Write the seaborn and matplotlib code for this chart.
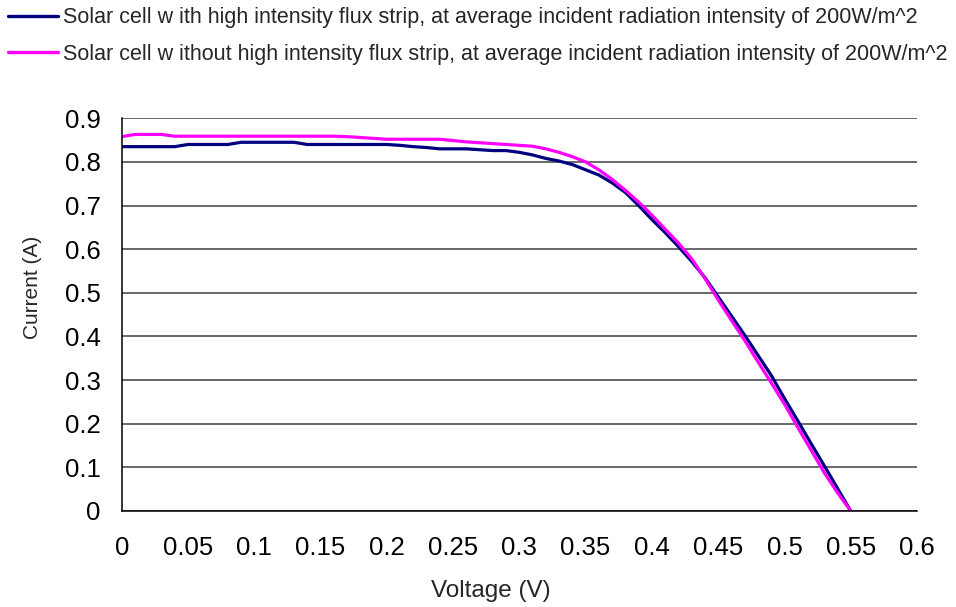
import numpy as np
import pandas as pd
import matplotlib
matplotlib.use("Agg")
import matplotlib.pyplot as plt
import seaborn as sns

voltage = [0.00, 0.01, 0.02, 0.03, 0.04, 0.05, 0.06, 0.07, 0.08, 0.09,
           0.10, 0.11, 0.12, 0.13, 0.14, 0.15, 0.16, 0.17, 0.18, 0.19,
           0.20, 0.21, 0.22, 0.23, 0.24, 0.25, 0.26, 0.27, 0.28, 0.29,
           0.30, 0.31, 0.32, 0.33, 0.34, 0.35, 0.36, 0.37, 0.38, 0.39,
           0.40, 0.41, 0.42, 0.43, 0.44, 0.45, 0.46, 0.47, 0.48, 0.49,
           0.50, 0.51, 0.52, 0.53, 0.54, 0.55]

current_with_strip = [0.835, 0.835, 0.835, 0.835, 0.835, 0.840, 0.840, 0.840, 0.840, 0.845,
                      0.845, 0.845, 0.845, 0.845, 0.840, 0.840, 0.840, 0.840, 0.840, 0.840,
                      0.840, 0.838, 0.835, 0.833, 0.830, 0.830, 0.830, 0.828, 0.826, 0.826,
                      0.822, 0.816, 0.808, 0.802, 0.794, 0.782, 0.770, 0.752, 0.730, 0.700,
                      0.668, 0.638, 0.606, 0.572, 0.535, 0.491, 0.447, 0.403, 0.357, 0.311,
                      0.258, 0.207, 0.155, 0.104, 0.052, 0.000]

current_without_strip = [0.858, 0.863, 0.863, 0.863, 0.859, 0.859, 0.859, 0.859, 0.859, 0.859,
                         0.859, 0.859, 0.859, 0.859, 0.859, 0.859, 0.859, 0.858, 0.856, 0.854,
                         0.852, 0.852, 0.852, 0.852, 0.852, 0.849, 0.846, 0.844, 0.842, 0.840,
                         0.838, 0.836, 0.830, 0.822, 0.812, 0.800, 0.782, 0.760, 0.735, 0.708,
                         0.678, 0.646, 0.614, 0.578, 0.533, 0.484, 0.437, 0.391, 0.342, 0.294,
                         0.245, 0.192, 0.140, 0.088, 0.042, 0.000]

series_names = [
    "Solar cell w ith high intensity flux strip, at average incident radiation intensity of 200W/m^2",
    "Solar cell w ithout high intensity flux strip, at average incident radiation intensity of 200W/m^2",
]
series_colors = ["#000080", "#FF00FF"]

x_ticks = [0, 0.05, 0.1, 0.15, 0.2, 0.25, 0.3, 0.35, 0.4, 0.45, 0.5, 0.55, 0.6]
x_tick_labels = ["0", "0.05", "0.1", "0.15", "0.2", "0.25", "0.3", "0.35", "0.4", "0.45", "0.5", "0.55", "0.6"]
y_ticks = [0, 0.1, 0.2, 0.3, 0.4, 0.5, 0.6, 0.7, 0.8, 0.9]
y_tick_labels = ["0", "0.1", "0.2", "0.3", "0.4", "0.5", "0.6", "0.7", "0.8", "0.9"]

df = pd.concat([
    pd.DataFrame({"Voltage": voltage, "Current": current_with_strip, "Series": series_names[0]}),
    pd.DataFrame({"Voltage": voltage, "Current": current_without_strip, "Series": series_names[1]}),
], ignore_index=True)

sns.set_theme(style="white")
plt.rcParams["font.family"] = ["Liberation Sans", "DejaVu Sans"]

fig = plt.figure(figsize=(9.56, 6.07), dpi=100)
ax = fig.add_axes([0.1273, 0.1582, 0.8319, 0.6469])

sns.lineplot(data=df, x="Voltage", y="Current", hue="Series", hue_order=series_names,
             palette=series_colors, linewidth=2.3, ax=ax, legend=False, sort=False)

ax.set_xlim(0, 0.6)
ax.set_ylim(0, 0.9)
ax.set_xticks(x_ticks)
ax.set_xticklabels(x_tick_labels)
ax.set_yticks(y_ticks)
ax.set_yticklabels(y_tick_labels)
ax.tick_params(axis="both", labelsize=18.5, colors="black", direction="out", length=6, width=1.1)
ax.tick_params(axis="x", pad=12)
ax.tick_params(axis="y", pad=9)
ax.grid(axis="y", color="#404040", linewidth=1.1)
ax.grid(axis="x", visible=False)
ax.set_axisbelow(True)
for side in ["top", "right"]:
    ax.spines[side].set_visible(False)
for side in ["left", "bottom"]:
    ax.spines[side].set_color("black")
    ax.spines[side].set_linewidth(1.1)

ax.set_xlabel("Voltage (V)", fontsize=17.5)
ax.set_ylabel("Current (A)", fontsize=15)
ax.xaxis.set_label_coords(0.4645, -0.2036)
ax.yaxis.set_label_coords(-0.1116, 0.57)
ax.xaxis.label.set_verticalalignment("center")
ax.yaxis.label.set_verticalalignment("center")

handles = [plt.Line2D([], [], color=c, linewidth=2.4) for c in series_colors]
fig.legend(handles, series_names, loc="upper left", bbox_to_anchor=(0.0084, 0.988),
           frameon=False, fontsize=15.5, handlelength=2.3, handletextpad=0.27,
           labelspacing=0.72, borderaxespad=0.0, borderpad=0.0)

fig.savefig("out.png", dpi=100)
